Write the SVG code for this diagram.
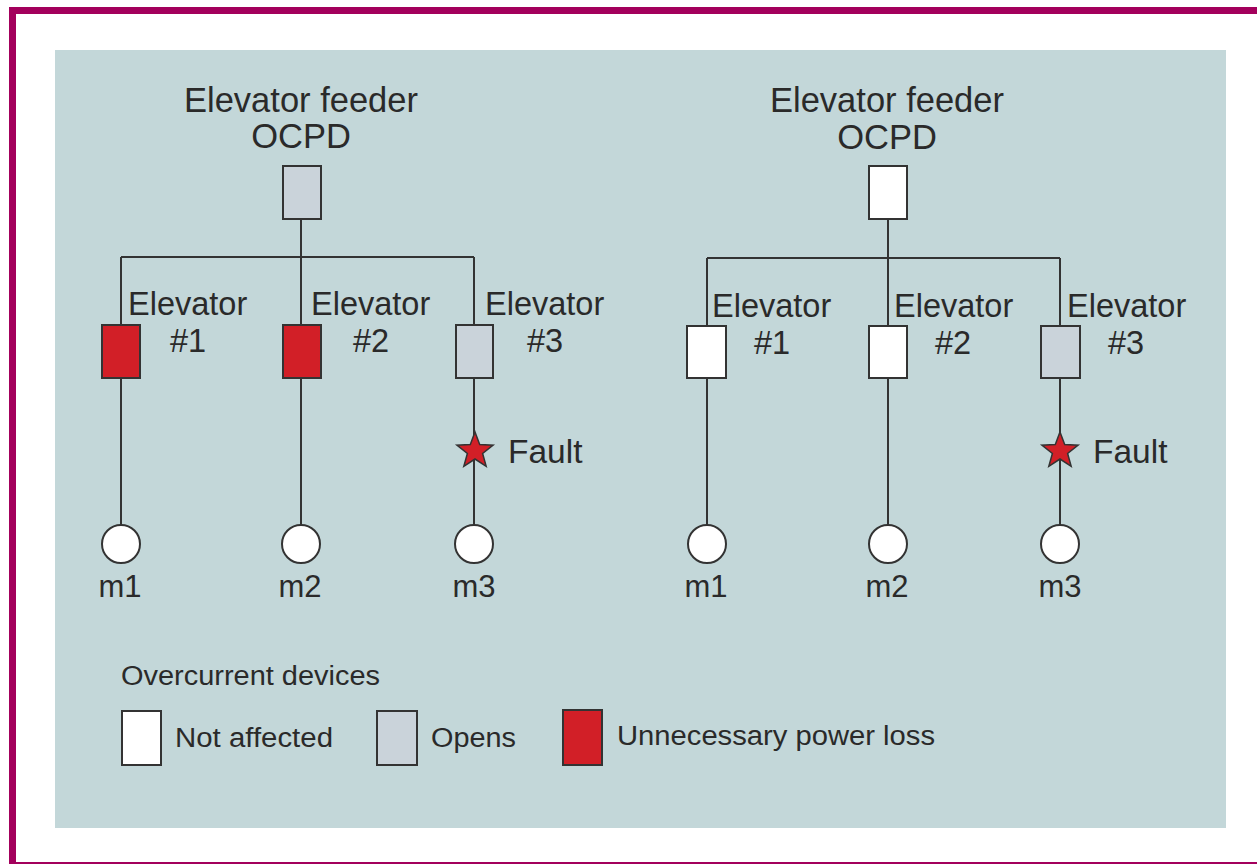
<svg xmlns="http://www.w3.org/2000/svg" xmlns:xlink="http://www.w3.org/1999/xlink" width="1257" height="864" viewBox="0 0 1257 864">
<style>
  .lbl { font-family: "Liberation Sans", Arial, sans-serif; fill: #2a2a2a; }
  .title { font-size: 34.5px; text-anchor: middle; }
  .elev { font-size: 32.5px; }
  .fault { font-size: 33.5px; }
  .mlab { font-size: 31px; text-anchor: middle; }
  .leg { font-size: 27px; }
  .wire { stroke: #333; stroke-width: 2; fill: none; }
  .box { stroke: #333; stroke-width: 2; }
  .white { fill: #ffffff; }
  .gray { fill: #cad3da; }
  .red { fill: #d21f27; }
  .motor { fill: #ffffff; stroke: #333; stroke-width: 2; }
  .star { fill: #d21f27; stroke: #333; stroke-width: 1.5; }
</style>
<defs>
  <polygon id="star" points="0,-19 4.7,-6.47 18.07,-5.87 7.61,2.47 11.17,15.37 0,8 -11.17,15.37 -7.61,2.47 -18.07,-5.87 -4.7,-6.47"/>
</defs>
<rect x="0" y="0" width="1257" height="864" fill="#ffffff"/>
<rect x="12.5" y="10.5" width="1260" height="855" fill="none" stroke="#a3005c" stroke-width="7"/>
<rect x="55" y="50" width="1171" height="778" fill="#c3d7d9"/>

<g id="connectors">
  <!-- left tree -->
  <path class="wire" d="M301,219 V257 M121,257 H474 M121,257 V325 M301,257 V325 M474,257 V325"/>
  <path class="wire" d="M121,378 V525 M301,378 V525 M474,378 V525"/>
  <!-- right tree -->
  <path class="wire" d="M888,219 V258 M707,258 H1060 M707,258 V326 M888,258 V326 M1060,258 V326"/>
  <path class="wire" d="M707,378 V525 M888,378 V525 M1060,378 V525"/>
</g>

<!-- Left tree -->
<g id="left-feeder">
  <text class="lbl title" x="301" y="112">Elevator feeder</text>
  <text class="lbl title" x="301" y="148">OCPD</text>
  <rect class="box gray" x="283" y="166" width="38" height="53"/>
</g>
<g id="left-elev1">
  <rect class="box red" x="102" y="325" width="38" height="53"/>
  <text class="lbl elev" x="128" y="315">Elevator</text>
  <text class="lbl elev" x="170" y="352">#1</text>
</g>
<g id="left-elev2">
  <rect class="box red" x="283" y="325" width="38" height="53"/>
  <text class="lbl elev" x="311" y="315">Elevator</text>
  <text class="lbl elev" x="353" y="352">#2</text>
</g>
<g id="left-elev3">
  <rect class="box gray" x="456" y="325" width="37" height="53"/>
  <text class="lbl elev" x="485" y="315">Elevator</text>
  <text class="lbl elev" x="527" y="352">#3</text>
</g>
<g id="left-fault">
  <use xlink:href="#star" class="star" x="475" y="451"/>
  <text class="lbl fault" x="508" y="463">Fault</text>
</g>
<g id="left-m1">
  <circle class="motor" cx="121" cy="544" r="19"/>
  <text class="lbl mlab" x="120" y="597">m1</text>
</g>
<g id="left-m2">
  <circle class="motor" cx="301" cy="544" r="19"/>
  <text class="lbl mlab" x="300" y="597">m2</text>
</g>
<g id="left-m3">
  <circle class="motor" cx="474" cy="544" r="19"/>
  <text class="lbl mlab" x="474" y="597">m3</text>
</g>

<!-- Right tree -->
<g id="right-feeder">
  <text class="lbl title" x="887" y="112">Elevator feeder</text>
  <text class="lbl title" x="887" y="149">OCPD</text>
  <rect class="box white" x="869" y="166" width="38" height="53"/>
</g>
<g id="right-elev1">
  <rect class="box white" x="687" y="326" width="39" height="52"/>
  <text class="lbl elev" x="712" y="317">Elevator</text>
  <text class="lbl elev" x="754" y="354">#1</text>
</g>
<g id="right-elev2">
  <rect class="box white" x="869" y="326" width="38" height="52"/>
  <text class="lbl elev" x="894" y="317">Elevator</text>
  <text class="lbl elev" x="935" y="354">#2</text>
</g>
<g id="right-elev3">
  <rect class="box gray" x="1041" y="326" width="39" height="52"/>
  <text class="lbl elev" x="1067" y="317">Elevator</text>
  <text class="lbl elev" x="1108" y="354">#3</text>
</g>
<g id="right-fault">
  <use xlink:href="#star" class="star" x="1060" y="451"/>
  <text class="lbl fault" x="1093" y="463">Fault</text>
</g>
<g id="right-m1">
  <circle class="motor" cx="707" cy="544" r="19"/>
  <text class="lbl mlab" x="706" y="597">m1</text>
</g>
<g id="right-m2">
  <circle class="motor" cx="888" cy="544" r="19"/>
  <text class="lbl mlab" x="887" y="597">m2</text>
</g>
<g id="right-m3">
  <circle class="motor" cx="1060" cy="544" r="19"/>
  <text class="lbl mlab" x="1060" y="597">m3</text>
</g>

<!-- Legend -->
<g id="legend">
  <text class="lbl leg" x="121" y="685" textLength="259" lengthAdjust="spacingAndGlyphs">Overcurrent devices</text>
  <rect class="box white" x="122" y="711" width="39" height="54"/>
  <text class="lbl leg" x="175" y="747" textLength="158" lengthAdjust="spacingAndGlyphs">Not affected</text>
  <rect class="box gray" x="377" y="711" width="40" height="54"/>
  <text class="lbl leg" x="431" y="747" textLength="85" lengthAdjust="spacingAndGlyphs">Opens</text>
  <rect class="box red" x="563" y="710" width="39" height="55"/>
  <text class="lbl leg" x="617" y="745" textLength="318" lengthAdjust="spacingAndGlyphs">Unnecessary power loss</text>
</g>
</svg>
